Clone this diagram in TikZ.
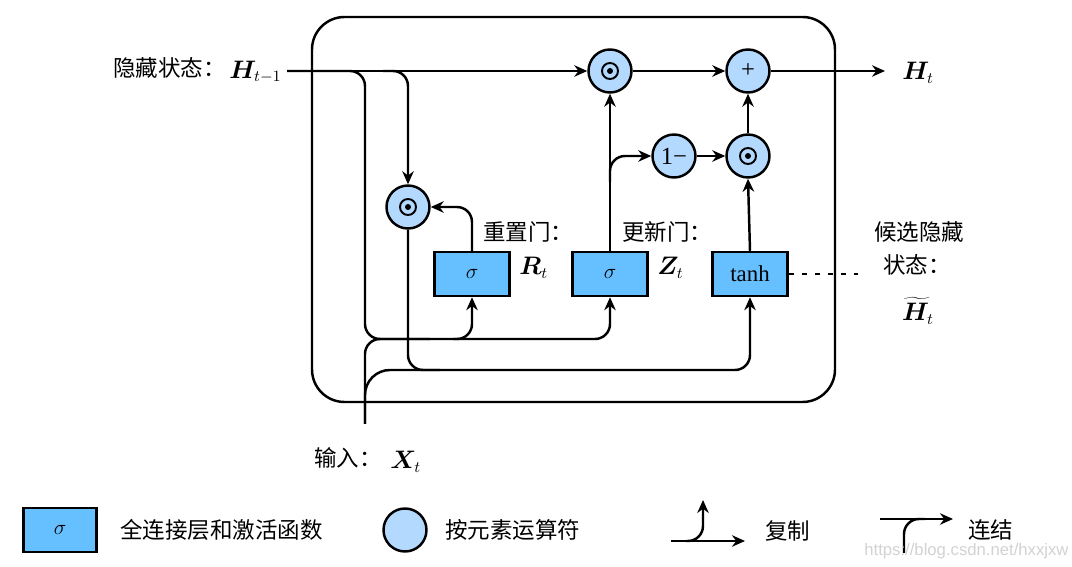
\documentclass[tikz,border=0pt]{standalone}
\usepackage{bm}
\usepackage{fontspec}
\setmainfont{Liberation Serif}
\newfontfamily\cjk{Noto Sans CJK SC}
\newfontfamily\wmfont{Liberation Sans}
\usetikzlibrary{arrows.meta}
\definecolor{gatefill}{RGB}{102,191,255}
\definecolor{opfill}{RGB}{179,217,255}
\tikzset{
  gate/.style={draw, line width=1.4pt, fill=gatefill, minimum width=15mm, minimum height=8.8mm, inner sep=0pt, font=\fontsize{13}{15}\selectfont},
  op/.style={circle, draw, line width=1.4pt, fill=opfill, minimum size=8.6mm, inner sep=0pt, font=\fontsize{14}{15}\selectfont},
  dotop/.style={op, path picture={\draw[black, line width=1.1pt] (path picture bounding box.center) circle (1.6mm);
      \fill[black] (path picture bounding box.center) circle (0.6mm);}},
  wire/.style={line width=1.4pt, rounded corners=3mm},
  flow/.style={wire, -{Stealth[length=2.6mm,width=2.3mm]}},
  lab/.style={font=\cjk\fontsize{12.8}{15}\selectfont, inner sep=0pt},
  sym/.style={font=\fontsize{13.5}{15}\selectfont, inner sep=0pt}
}
\begin{document}
\begin{tikzpicture}[x=0.2mm, y=-0.2mm]
        \useasboundingbox (0,0) rectangle (1072,567);
        \draw[line width=1.4pt, rounded corners=6.5mm] (312,17) rectangle (835,402);

        \node[dotop] (mulh) at (610,71) {};
        \node[op] (add) at (748,71) {+};
        \node[op] (oneminus) at (674,156) {1−};
        \node[dotop] (mulz) at (748,156) {};
        \node[dotop] (mulr) at (408,207) {};
        \node[gate] (rgate) at (472,274) {$\sigma$};
        \node[gate] (zgate) at (610,274) {$\sigma$};
        \node[gate] (cand) at (750,274) {tanh};

        \node[lab, anchor=east] (hlab) at (226,68) {隐藏状态：};
        \node[sym, anchor=west] (hprev) at (229,72) {$\bm{H}_{t-1}$};
        \node[sym, anchor=west] (hnext) at (902,73) {$\bm{H}_t$};
        \node[lab, anchor=east] (xlab) at (382,458) {输入：};
        \node[sym, anchor=west] (xt) at (390,462) {$\bm{X}_t$};
        \node[lab, anchor=west] (rlab) at (483,232) {重置门：};
        \node[sym, anchor=west] (rt) at (519,268) {$\bm{R}_t$};
        \node[lab, anchor=west] (zlab) at (622,232) {更新门：};
        \node[sym, anchor=west] (zt) at (657,268) {$\bm{Z}_t$};
        \node[lab] (clab) at (919,232) {候选隐藏};
        \node[lab, anchor=west] (slab) at (883,265) {状态：};
        \node[sym] (htilde) at (918,311) {$\widetilde{\bm{H}}_t$};

        \coordinate (hstart) at (287,71);
        \coordinate (hsplit) at (383,71);
        \coordinate (hcat) at (365,339);
        \coordinate (rsplit) at (453,339);
        \coordinate (xcat) at (430,339);
        \coordinate (xrow) at (440,370);
        \coordinate (xin) at (365,424);
        \coordinate (zsplit) at (610,182);
        \coordinate (hend) at (885,71);
        \coordinate (dotend) at (858,274);

        \draw[flow] (hstart) -- (mulh);
        \draw[flow] (hstart) -| (hcat) -| (zgate.south);
        \draw[flow] (rsplit) -| (rgate.south);
        \draw[flow] (hsplit) -| (mulr.north);
        \draw[wire] (xin) |- (xcat);
        \draw[wire, rounded corners=5mm] (xin) |- (xrow);
        \draw[flow] (mulr.south) |- (xrow) -| (cand.south);
        \draw[flow] (rgate.north) |- (mulr.east);
        \draw[flow] (zgate.north) -- (mulh.south);
        \draw[flow] (zsplit) |- (oneminus.west);
        \draw[flow] (oneminus) -- (mulz);
        \draw[flow] (mulh) -- (add);
        \draw[flow] (mulz) -- (add);
        \draw[flow] (cand.north) -- (mulz.south);
        \draw[flow] (add) -- (hend);
        \draw[line width=1.4pt, dash pattern=on 1mm off 1.6mm] (cand.east) -- (dotend);

        \node[gate, minimum width=14.6mm] (leggate) at (60,530) {$\sigma$};
        \node[lab, anchor=west] (leggatetxt) at (120,530) {全连接层和激活函数};
        \node[op] (legop) at (405,530) {};
        \node[lab, anchor=west] (legoptxt) at (445,530) {按元素运算符};

        \coordinate (cpa) at (671,541);
        \coordinate (cpb) at (745,541);
        \coordinate (cpc) at (703,500);
        \coordinate (cpd) at (686,541);
        \draw[flow] (cpa) -- (cpb);
        \draw[flow] (cpd) -| (cpc);
        \node[lab, anchor=west] (copytxt) at (765,531) {复制};

        \coordinate (cca) at (880,519);
        \coordinate (ccb) at (953,519);
        \coordinate (ccc) at (904,553);
        \coordinate (ccd) at (925,519);
        \draw[flow] (cca) -- (ccb);
        \draw[wire] (ccc) |- (ccd);
        \node[lab, anchor=west] (cattxt) at (968,530) {连结};

        \node[font=\wmfont\fontsize{9.5}{11}\selectfont, text=gray!35, anchor=west, inner sep=0pt] (wm) at (864,551) {https://blog.csdn.net/hxxjxw};
\end{tikzpicture}
\end{document}
